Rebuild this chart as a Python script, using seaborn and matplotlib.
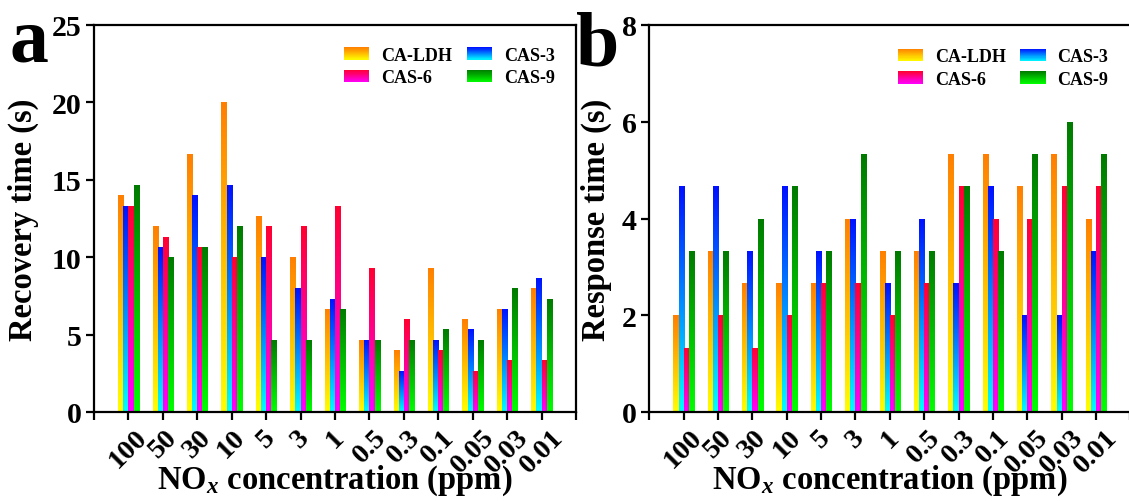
import numpy as np
import pandas as pd
import matplotlib
matplotlib.use("Agg")
import matplotlib.pyplot as plt
import seaborn as sns
from matplotlib.colors import LinearSegmentedColormap
from matplotlib.legend_handler import HandlerBase
from matplotlib.patches import Rectangle

# ---- data -------------------------------------------------------------
concentrations = ["100", "50", "30", "10", "5", "3", "1", "0.5", "0.3",
                  "0.1", "0.05", "0.03", "0.01"]
samples = ["CA-LDH", "CAS-3", "CAS-6", "CAS-9"]

recovery_ca_ldh = [14.0, 12.0, 16.67, 20.0, 12.67, 10.0, 6.67, 4.67, 4.0, 9.33, 6.0, 6.67, 8.0]
recovery_cas3 = [13.33, 10.67, 14.0, 14.67, 10.0, 8.0, 7.33, 4.67, 2.67, 4.67, 5.33, 6.67, 8.67]
recovery_cas6 = [13.33, 11.33, 10.67, 10.0, 12.0, 12.0, 13.33, 9.33, 6.0, 4.0, 2.67, 3.33, 3.33]
recovery_cas9 = [14.67, 10.0, 10.67, 12.0, 4.67, 4.67, 6.67, 4.67, 4.67, 5.33, 4.67, 8.0, 7.33]

response_ca_ldh = [2.0, 3.33, 2.67, 2.67, 2.67, 4.0, 3.33, 3.33, 5.33, 5.33, 4.67, 5.33, 4.0]
response_cas3 = [4.67, 4.67, 3.33, 4.67, 3.33, 4.0, 2.67, 4.0, 2.67, 4.67, 2.0, 2.0, 3.33]
response_cas6 = [1.33, 2.0, 1.33, 2.0, 2.67, 2.67, 2.0, 2.67, 4.67, 4.0, 4.0, 4.67, 4.67]
response_cas9 = [3.33, 3.33, 4.0, 4.67, 3.33, 5.33, 3.33, 3.33, 4.67, 3.33, 5.33, 6.0, 5.33]

# vertical gradients (top colour, bottom colour) for each sample
gradients = {
    "CA-LDH": ("#FF7F00", "#FFFF00"),
    "CAS-3": ("#0010FF", "#00FFFF"),
    "CAS-6": ("#FF0030", "#FF00FF"),
    "CAS-9": ("#007A00", "#00FF00"),
}


def long_frame(series):
    rows = []
    for name, vals in zip(samples, series):
        for c, v in zip(concentrations, vals):
            rows.append({"conc": c, "sample": name, "value": v})
    return pd.DataFrame(rows)


recovery_df = long_frame([recovery_ca_ldh, recovery_cas3, recovery_cas6, recovery_cas9])
response_df = long_frame([response_ca_ldh, response_cas3, response_cas6, response_cas9])

# ---- style ------------------------------------------------------------
sns.set_theme(style="ticks")
plt.rcParams["font.family"] = ["Liberation Serif", "DejaVu Serif"]
plt.rcParams["font.weight"] = "bold"
plt.rcParams["axes.labelweight"] = "bold"
for key in ("text.color", "axes.labelcolor", "xtick.color", "ytick.color",
            "axes.edgecolor"):
    plt.rcParams[key] = "black"
plt.rcParams["mathtext.fontset"] = "custom"
plt.rcParams["mathtext.rm"] = "Liberation Serif:bold"
plt.rcParams["mathtext.it"] = "Liberation Serif:italic:bold"
plt.rcParams["mathtext.bf"] = "Liberation Serif:bold"

XTICK_FS = 20.5
YTICK_FS = 21.5
LABEL_FS = 23.5
LEGEND_FS = 13


def gradient_cmap(top, bottom):
    return LinearSegmentedColormap.from_list("g", [bottom, top])


def paint_bars(ax):
    grad = np.linspace(0, 1, 256).reshape(-1, 1)
    for container, name in zip(ax.containers, samples):
        top, bottom = gradients[name]
        cmap = gradient_cmap(top, bottom)
        for bar in container.patches:
            x0, y0 = bar.get_x(), bar.get_y()
            w, h = bar.get_width(), bar.get_height()
            im = ax.imshow(grad, cmap=cmap, origin="lower", aspect="auto",
                           extent=[x0, x0 + w, y0, y0 + h],
                           interpolation="bilinear", zorder=2)
            im.set_clip_path(bar)
            bar.set_facecolor("none")
            bar.set_edgecolor("none")


class GradientHandler(HandlerBase):
    def __init__(self, top, bottom, steps=24):
        super().__init__()
        self.top, self.bottom, self.steps = top, bottom, steps

    def create_artists(self, legend, orig_handle, xdescent, ydescent,
                       width, height, fontsize, trans):
        cmap = gradient_cmap(self.top, self.bottom)
        strips = []
        dh = height / self.steps
        for i in range(self.steps):
            r = Rectangle((-xdescent, -ydescent + i * dh), width, dh * 1.05,
                          facecolor=cmap((i + 0.5) / self.steps),
                          edgecolor="none", transform=trans)
            strips.append(r)
        return strips


def style_axis(ax, ylabel, ymax, ystep, letter, legend_anchor):
    paint_bars(ax)
    ax.set_xlim(-1, 13)
    ax.set_ylim(0, ymax)
    yt = np.arange(0, ymax + 0.01, ystep)
    ax.set_yticks(yt)
    ax.set_yticklabels([f"{v:g}" for v in yt], fontsize=YTICK_FS,
                       fontweight="bold")
    ax.set_xticks(np.arange(-1, 14))
    ax.set_xticklabels([""] + concentrations + [""], rotation=45,
                       ha="center", fontsize=XTICK_FS, fontweight="bold")
    ax.tick_params(axis="both", direction="out", length=6, width=1.6,
                   color="black", pad=3)
    for sp in ax.spines.values():
        sp.set_visible(True)
        sp.set_linewidth(1.6)
        sp.set_color("black")
    ax.set_xlabel(r"NO$_{x}$ concentration (ppm)", fontsize=LABEL_FS,
                  fontweight="bold")
    ax.set_ylabel(ylabel, fontsize=LABEL_FS, fontweight="bold")

    handles = [Rectangle((0, 0), 1, 1) for _ in samples]
    order = [0, 2, 1, 3]
    hmap = {h: GradientHandler(*gradients[s]) for h, s in zip(handles, samples)}
    ax.legend([handles[i] for i in order], [samples[i] for i in order],
              handler_map=hmap, ncol=2, frameon=False, loc="upper left",
              bbox_to_anchor=legend_anchor, borderaxespad=0, borderpad=0,
              prop={"family": "Liberation Serif", "weight": "bold",
                    "size": LEGEND_FS},
              handlelength=1.4, handleheight=0.7, handletextpad=0.65,
              columnspacing=0.8, labelspacing=0.3)
    ax.text(letter[1], letter[2], letter[0], transform=ax.figure.transFigure,
            fontsize=56, fontweight="bold", ha="left", va="baseline")


W, H = 1129, 502
fig = plt.figure(figsize=(W / 100, H / 100), dpi=100)
ax_a = fig.add_axes([94 / W, (H - 413) / H, (576 - 94) / W, (413 - 26) / H])
ax_b = fig.add_axes([649.3 / W, (H - 413) / H, (1130.4 - 649.3) / W, (413 - 26) / H])

sns.barplot(data=recovery_df, x="conc", y="value", hue="sample",
            order=concentrations, hue_order=samples, width=0.6,
            ax=ax_a, legend=False, linewidth=0, saturation=1)
sns.barplot(data=response_df, x="conc", y="value", hue="sample",
            order=concentrations, hue_order=samples, width=0.6,
            ax=ax_b, legend=False, linewidth=0, saturation=1)

style_axis(ax_a, "Recovery time (s)", 25, 5,
           ("a", 9 / W, (H - 62) / H), (0.519, 0.943))
style_axis(ax_b, "Response time (s)", 8, 2,
           ("b", 576 / W, (H - 65) / H), (0.517, 0.94))

ax_a.yaxis.set_label_coords(-0.115, 0.5)
ax_b.yaxis.set_label_coords(-0.078, 0.5)
for ax in (ax_a, ax_b):
    ax.xaxis.set_label_coords(0.5, -0.13)

fig.savefig("out.png", dpi=100)
